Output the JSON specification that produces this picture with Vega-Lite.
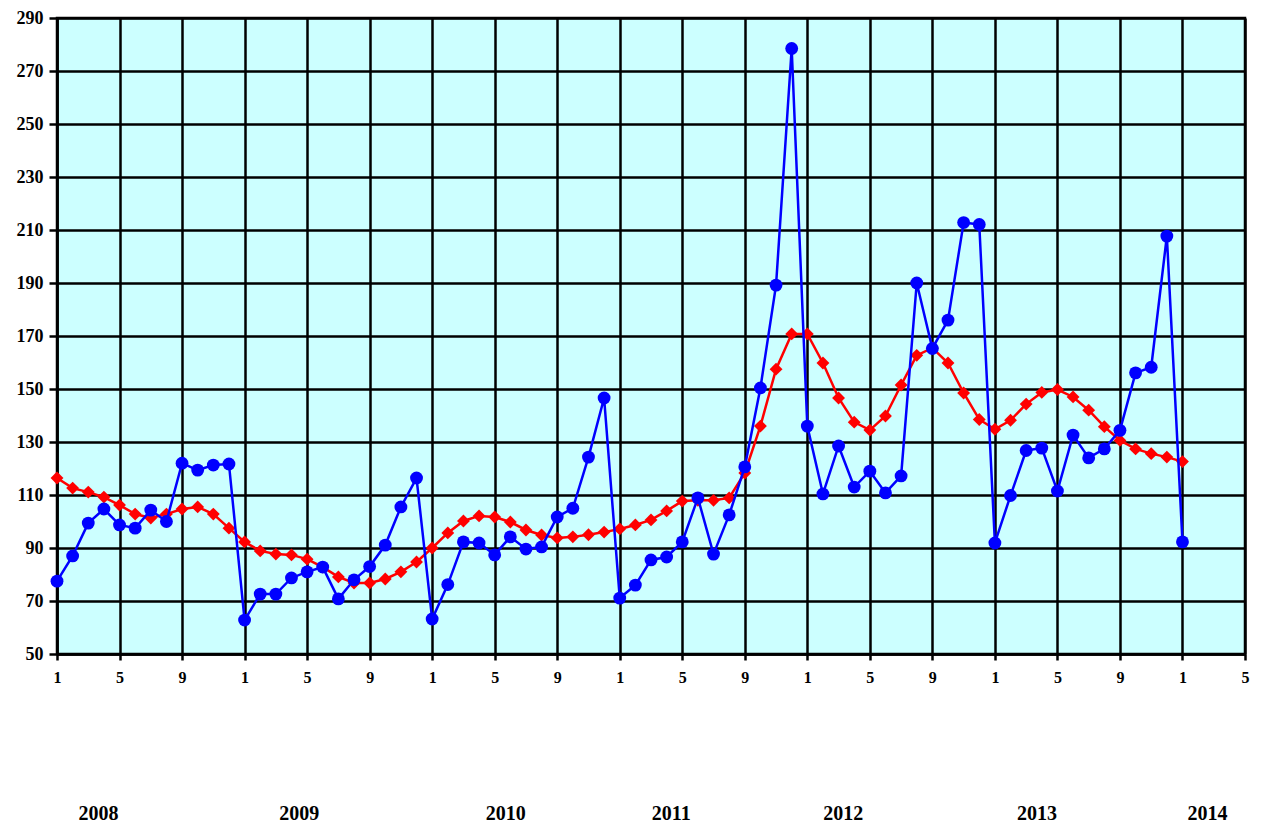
{
  "$schema": "https://vega.github.io/schema/vega-lite/v6.json",
  "width": 1188,
  "height": 636,
  "autosize": "none",
  "padding": {"left": 57, "top": 18, "right": 19, "bottom": 173},
  "background": "white",
  "config": {
    "view": {"fill": "#CCFFFF", "stroke": "black", "strokeWidth": 2.5},
    "font": "Liberation Serif",
    "axis": {
      "grid": true,
      "gridColor": "black",
      "gridWidth": 2.5,
      "gridOpacity": 1,
      "domainColor": "black",
      "domainWidth": 2.5,
      "tickColor": "black",
      "tickWidth": 2.5,
      "labelFont": "Liberation Serif",
      "labelFontWeight": "bold",
      "labelColor": "black",
      "title": null
    }
  },
  "datasets": {
    "main": [
      {"m": 0, "blue": 77.5, "red": 116.4},
      {"m": 1, "blue": 87, "red": 112.6},
      {"m": 2, "blue": 99.4, "red": 111.1},
      {"m": 3, "blue": 104.7, "red": 109.2},
      {"m": 4, "blue": 98.7, "red": 106.2},
      {"m": 5, "blue": 97.5, "red": 102.8},
      {"m": 6, "blue": 104.3, "red": 101.3},
      {"m": 7, "blue": 100, "red": 102.8},
      {"m": 8, "blue": 122, "red": 104.7},
      {"m": 9, "blue": 119.4, "red": 105.5},
      {"m": 10, "blue": 121.3, "red": 102.8},
      {"m": 11, "blue": 121.7, "red": 97.5},
      {"m": 12, "blue": 62.8, "red": 92.3},
      {"m": 13, "blue": 72.6, "red": 88.9},
      {"m": 14, "blue": 72.6, "red": 87.7},
      {"m": 15, "blue": 78.7, "red": 87.4},
      {"m": 16, "blue": 81, "red": 85.8},
      {"m": 17, "blue": 82.8, "red": 82.8},
      {"m": 18, "blue": 70.8, "red": 79.1},
      {"m": 19, "blue": 78, "red": 76.8},
      {"m": 20, "blue": 83, "red": 76.8},
      {"m": 21, "blue": 91.1, "red": 78.3},
      {"m": 22, "blue": 105.5, "red": 81},
      {"m": 23, "blue": 116.4, "red": 84.7},
      {"m": 24, "blue": 63.2, "red": 90},
      {"m": 25, "blue": 76.2, "red": 95.7},
      {"m": 26, "blue": 92.3, "red": 100.2},
      {"m": 27, "blue": 91.9, "red": 102.1},
      {"m": 28, "blue": 87.4, "red": 101.7},
      {"m": 29, "blue": 94.2, "red": 99.8},
      {"m": 30, "blue": 89.6, "red": 96.8},
      {"m": 31, "blue": 90.4, "red": 94.9},
      {"m": 32, "blue": 101.7, "red": 93.8},
      {"m": 33, "blue": 105, "red": 94.2},
      {"m": 34, "blue": 124.3, "red": 95},
      {"m": 35, "blue": 146.6, "red": 96},
      {"m": 36, "blue": 71.1, "red": 97.2},
      {"m": 37, "blue": 76, "red": 98.7},
      {"m": 38, "blue": 85.5, "red": 100.6},
      {"m": 39, "blue": 86.6, "red": 104},
      {"m": 40, "blue": 92.3, "red": 107.7},
      {"m": 41, "blue": 108.9, "red": 108},
      {"m": 42, "blue": 87.7, "red": 108},
      {"m": 43, "blue": 102.5, "red": 108.9},
      {"m": 44, "blue": 120.6, "red": 118.3},
      {"m": 45, "blue": 150.4, "red": 136},
      {"m": 46, "blue": 189.2, "red": 157.5},
      {"m": 47, "blue": 278.5, "red": 170.8},
      {"m": 48, "blue": 136, "red": 170.8},
      {"m": 49, "blue": 110.4, "red": 159.8},
      {"m": 50, "blue": 128.5, "red": 146.6},
      {"m": 51, "blue": 113, "red": 137.5},
      {"m": 52, "blue": 119, "red": 134.5},
      {"m": 53, "blue": 110.8, "red": 139.8},
      {"m": 54, "blue": 117.2, "red": 151.5},
      {"m": 55, "blue": 190, "red": 162.7},
      {"m": 56, "blue": 165.3, "red": 165.5},
      {"m": 57, "blue": 176, "red": 159.8},
      {"m": 58, "blue": 212.8, "red": 148.5},
      {"m": 59, "blue": 212.1, "red": 138.5},
      {"m": 60, "blue": 91.9, "red": 134.8},
      {"m": 61, "blue": 109.8, "red": 138.2},
      {"m": 62, "blue": 126.8, "red": 144.3},
      {"m": 63, "blue": 127.7, "red": 148.7},
      {"m": 64, "blue": 111.5, "red": 149.8},
      {"m": 65, "blue": 132.6, "red": 147},
      {"m": 66, "blue": 124, "red": 142},
      {"m": 67, "blue": 127.4, "red": 135.8},
      {"m": 68, "blue": 134.4, "red": 130.6},
      {"m": 69, "blue": 156.1, "red": 127.4},
      {"m": 70, "blue": 158.2, "red": 125.6},
      {"m": 71, "blue": 207.7, "red": 124.3},
      {"m": 72, "blue": 92.3, "red": 122.6}
    ],
    "years": [
      {"year": "2008", "pos": 2.65},
      {"year": "2009", "pos": 15.5},
      {"year": "2010", "pos": 28.7},
      {"year": "2011", "pos": 39.3},
      {"year": "2012", "pos": 50.3},
      {"year": "2013", "pos": 62.7},
      {"year": "2014", "pos": 73.6}
    ]
  },
  "layer": [
    {
      "data": {"name": "main"},
      "mark": {
        "type": "line",
        "color": "#FF0000",
        "strokeWidth": 2.5,
        "point": {"shape": "diamond", "filled": true, "color": "#FF0000", "size": 165, "opacity": 1}
      },
      "encoding": {
        "x": {
          "field": "m",
          "type": "quantitative",
          "scale": {"domain": [0, 76], "nice": false, "zero": false},
          "axis": {
            "values": [0, 4, 8, 12, 16, 20, 24, 28, 32, 36, 40, 44, 48, 52, 56, 60, 64, 68, 72, 76],
            "labelExpr": "(datum.value % 12) + 1",
            "labelFontSize": 16,
            "tickSize": 6,
            "labelPadding": 9,
            "labelFlush": false,
            "labelOverlap": false
          }
        },
        "y": {
          "field": "red",
          "type": "quantitative",
          "scale": {"domain": [50, 290], "nice": false, "zero": false},
          "axis": {
            "values": [50, 70, 90, 110, 130, 150, 170, 190, 210, 230, 250, 270, 290],
            "labelFontSize": 18,
            "tickSize": 8,
            "labelPadding": 6,
            "labelFlush": false,
            "labelOverlap": false
          }
        }
      }
    },
    {
      "data": {"name": "main"},
      "mark": {
        "type": "line",
        "color": "#0000FF",
        "strokeWidth": 2.5,
        "point": {"shape": "circle", "filled": true, "color": "#0000FF", "size": 165, "opacity": 1}
      },
      "encoding": {
        "x": {"field": "m", "type": "quantitative"},
        "y": {"field": "blue", "type": "quantitative"}
      }
    },
    {
      "data": {"name": "years"},
      "mark": {"type": "text", "font": "Liberation Serif", "fontWeight": "bold", "fontSize": 20, "color": "black", "baseline": "middle", "align": "center"},
      "encoding": {
        "x": {"field": "pos", "type": "quantitative"},
        "y": {"datum": -10.5, "type": "quantitative"},
        "text": {"field": "year"}
      }
    }
  ]
}
